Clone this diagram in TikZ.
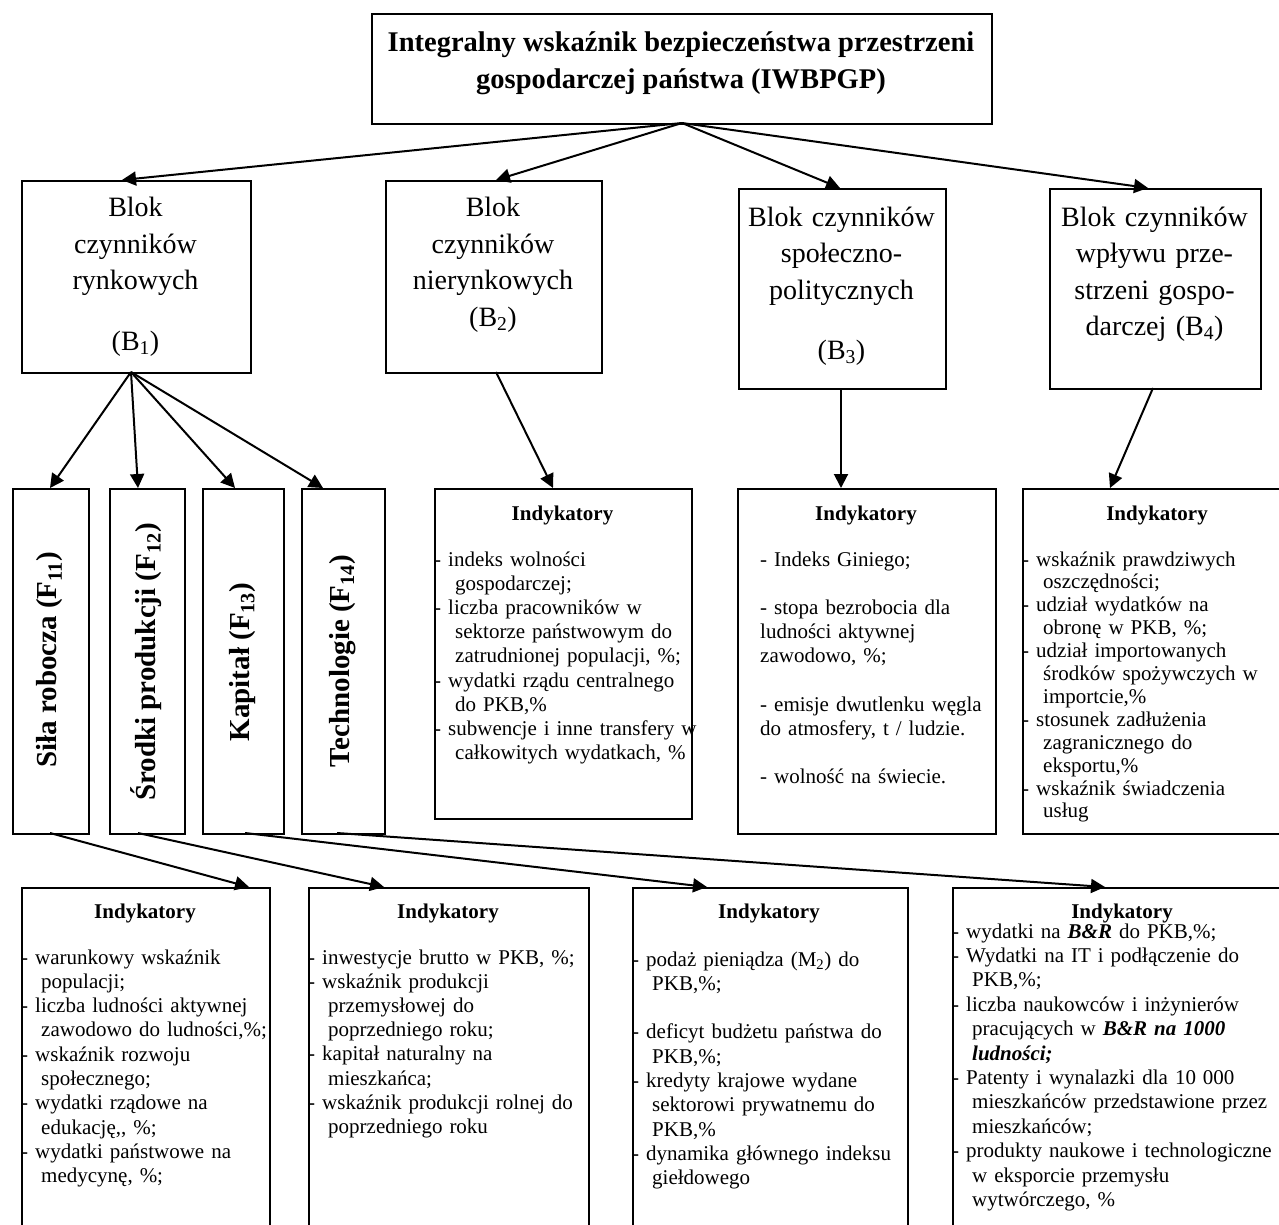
\documentclass[tikz,border=0pt]{standalone}
\usepackage{fontspec}
\setmainfont{Liberation Serif}
\usetikzlibrary{arrows.meta}
\begin{document}
\begin{tikzpicture}[x=1pt,y=-1pt,
  box/.style={draw,line width=2pt,inner sep=0pt,anchor=north west},
  conn/.style={line width=2pt,-{Triangle[length=14pt,width=14pt]}},
  btext/.style={font=\fontsize{28}{36.5}\selectfont,align=center,text width=220pt,inner sep=0pt,anchor=base},
  ftext/.style={font=\fontsize{29}{34}\selectfont\bfseries,rotate=90,inner sep=0pt},
  ihead/.style={font=\fontsize{21}{24}\selectfont\bfseries,inner sep=0pt,anchor=base},
  itext/.style={font=\fontsize{21}{24.2}\selectfont,align=left,text width=400pt,inner sep=0pt,anchor=base west},
]
\useasboundingbox (0,0) rectangle (1279,1225);
\fill[white] (0,0) rectangle (1279,1225);
\clip (0,0) rectangle (1279,1225);

% boxes
\node[box,minimum width=620pt,minimum height=110pt] (T) at (371,13) {};
\node[box,minimum width=229pt,minimum height=192pt] (B1) at (21,180) {};
\node[box,minimum width=216pt,minimum height=192pt] (B2) at (385,180) {};
\node[box,minimum width=207pt,minimum height=200pt] (B3) at (738,188) {};
\node[box,minimum width=211pt,minimum height=200pt] (B4) at (1049,188) {};
\node[box,minimum width=76pt,minimum height=345pt] (F11) at (12,488) {};
\node[box,minimum width=75pt,minimum height=345pt] (F12) at (109,488) {};
\node[box,minimum width=81pt,minimum height=345pt] (F13) at (202,488) {};
\node[box,minimum width=83pt,minimum height=345pt] (F14) at (301,488) {};
\node[box,minimum width=257pt,minimum height=330pt] (I2) at (434,488) {};
\node[box,minimum width=258pt,minimum height=345pt] (I3) at (737,488) {};
\node[box,minimum width=270pt,minimum height=345pt] (I4) at (1022,488) {};
\node[box,minimum width=248pt,minimum height=360pt] (J1) at (21,887) {};
\node[box,minimum width=280pt,minimum height=360pt] (J2) at (308,887) {};
\node[box,minimum width=275pt,minimum height=360pt] (J3) at (632,887) {};
\node[box,minimum width=340pt,minimum height=360pt] (J4) at (952,887) {};

% title
\node[font=\fontsize{28.5}{37}\selectfont\bfseries,align=center,inner sep=0pt] (Tt) at (681,63)
  {Integralny wskaźnik bezpieczeństwa przestrzeni\\gospodarczej państwa (IWBPGP)};

% block texts
\node[btext] (B1t) at (135.5,217) {Blok\\czynników\\rynkowych\\[23.5pt](B\textsubscript{1})};
\node[btext] (B2t) at (493,217) {Blok\\czynników\\nierynkowych\\(B\textsubscript{2})};
\node[btext] (B3t) at (841.5,226) {Blok czynników\\społeczno-\\politycznych\\[23.5pt](B\textsubscript{3})};
\node[btext] (B4t) at (1154.5,226) {Blok czynników\\wpływu prze-\\strzeni gospo-\\darczej (B\textsubscript{4})};

% factor texts
\node[ftext] (F11t) at (50,660) {Siła robocza (F\textsubscript{11})};
\node[ftext] (F12t) at (146.5,662) {Środki produkcji (F\textsubscript{12})};
\node[ftext] (F13t) at (242.5,662) {Kapitał (F\textsubscript{13})};
\node[ftext] (F14t) at (342.5,661) {Technologie (F\textsubscript{14})};

% indicator boxes, middle row
\node[ihead] (I2h) at (562.5,520) {Indykatory};
\node[itext] (I2t) at (434,566) {- indeks wolności\\
\hspace*{21pt}gospodarczej;\\
- liczba pracowników w\\
\hspace*{21pt}sektorze państwowym do\\
\hspace*{21pt}zatrudnionej populacji, \%;\\
- wydatki rządu centralnego\\
\hspace*{21pt}do PKB,\%\\
- subwencje i inne transfery w\\
\hspace*{21pt}całkowitych wydatkach, \%};

\node[ihead] (I3h) at (866,520) {Indykatory};
\node[itext] (I3t) at (760,566) {- Indeks Giniego;\\[24.2pt]
- stopa bezrobocia dla\\
ludności aktywnej\\
zawodowo, \%;\\[24.2pt]
- emisje dwutlenku węgla\\
do atmosfery, t / ludzie.\\[24.2pt]
- wolność na świecie.};

\node[ihead] (I4h) at (1157,520) {Indykatory};
\node[itext,font=\fontsize{21}{22.9}\selectfont] (I4t) at (1022,566) {- wskaźnik prawdziwych\\
\hspace*{21pt}oszczędności;\\
- udział wydatków na\\
\hspace*{21pt}obronę w PKB, \%;\\
- udział importowanych\\
\hspace*{21pt}środków spożywczych w\\
\hspace*{21pt}importcie,\%\\
- stosunek zadłużenia\\
\hspace*{21pt}zagranicznego do\\
\hspace*{21pt}eksportu,\%\\
- wskaźnik świadczenia\\
\hspace*{21pt}usług};

% indicator boxes, bottom row
\node[ihead] (J1h) at (145,918) {Indykatory};
\node[itext,font=\fontsize{21}{24.3}\selectfont] (J1t) at (21,964) {- warunkowy wskaźnik\\
\hspace*{20pt}populacji;\\
- liczba ludności aktywnej\\
\hspace*{20pt}zawodowo do ludności,\%;\\
- wskaźnik rozwoju\\
\hspace*{20pt}społecznego;\\
- wydatki rządowe na\\
\hspace*{20pt}edukację,{},{} \%;\\
- wydatki państwowe na\\
\hspace*{20pt}medycynę, \%;};

\node[ihead] (J2h) at (448,918) {Indykatory};
\node[itext] (J2t) at (308,964) {- inwestycje brutto w PKB, \%;\\
- wskaźnik produkcji\\
\hspace*{20pt}przemysłowej do\\
\hspace*{20pt}poprzedniego roku;\\
- kapitał naturalny na\\
\hspace*{20pt}mieszkańca;\\
- wskaźnik produkcji rolnej do\\
\hspace*{20pt}poprzedniego roku};

\node[ihead] (J3h) at (769,918) {Indykatory};
\node[itext,font=\fontsize{21}{24.3}\selectfont] (J3t) at (632,966) {- podaż pieniądza (M\textsubscript{2}) do\\
\hspace*{20pt}PKB,\%;\\[24.3pt]
- deficyt budżetu państwa do\\
\hspace*{20pt}PKB,\%;\\
- kredyty krajowe wydane\\
\hspace*{20pt}sektorowi prywatnemu do\\
\hspace*{20pt}PKB,\%\\
- dynamika głównego indeksu\\
\hspace*{20pt}giełdowego};

\node[ihead] (J4h) at (1122,918) {Indykatory};
\node[itext,font=\fontsize{21}{24.4}\selectfont] (J4t) at (952,938) {- wydatki na \textbf{\textit{B\&R}} do PKB,\%;\\
- Wydatki na IT i podłączenie do\\
\hspace*{20pt}PKB,\%;\\
- liczba naukowców i inżynierów\\
\hspace*{20pt}pracujących w \textbf{\textit{B\&R na 1000}}\\
\hspace*{20pt}\textbf{\textit{ludności;}}\\
- Patenty i wynalazki dla 10 000\\
\hspace*{20pt}mieszkańców przedstawione przez\\
\hspace*{20pt}mieszkańców;\\
- produkty naukowe i technologiczne\\
\hspace*{20pt}w eksporcie przemysłu\\
\hspace*{20pt}wytwórczego, \%};

% connector end points
\coordinate (Tout) at (682,123);
\coordinate (B1in) at (122,180);
\coordinate (B2in) at (496,180);
\coordinate (B3in) at (840,188);
\coordinate (B4in) at (1148,188);
\coordinate (B1out) at (131,372);
\coordinate (B2out) at (496,372);
\coordinate (B3out) at (841,388);
\coordinate (B4out) at (1153,388);
\coordinate (F11in) at (50,488);
\coordinate (F12in) at (138,488);
\coordinate (F13in) at (235,488);
\coordinate (F14in) at (323,488);
\coordinate (I2in) at (553,488);
\coordinate (I3in) at (841,488);
\coordinate (I4in) at (1110,488);
\coordinate (F11out) at (50,833);
\coordinate (F12out) at (138,833);
\coordinate (F13out) at (245,833);
\coordinate (F14out) at (337,833);
\coordinate (J1in) at (249,887);
\coordinate (J2in) at (384,887);
\coordinate (J3in) at (707,887);
\coordinate (J4in) at (1105,887);

% connectors
\draw[conn] (Tout) -- (B1in);
\draw[conn] (Tout) -- (B2in);
\draw[conn] (Tout) -- (B3in);
\draw[conn] (Tout) -- (B4in);
\draw[conn] (B1out) -- (F11in);
\draw[conn] (B1out) -- (F12in);
\draw[conn] (B1out) -- (F13in);
\draw[conn] (B1out) -- (F14in);
\draw[conn] (B2out) -- (I2in);
\draw[conn] (B3out) -- (I3in);
\draw[conn] (B4out) -- (I4in);
\draw[conn] (F11out) -- (J1in);
\draw[conn] (F12out) -- (J2in);
\draw[conn] (F13out) -- (J3in);
\draw[conn] (F14out) -- (J4in);
\end{tikzpicture}
\end{document}
